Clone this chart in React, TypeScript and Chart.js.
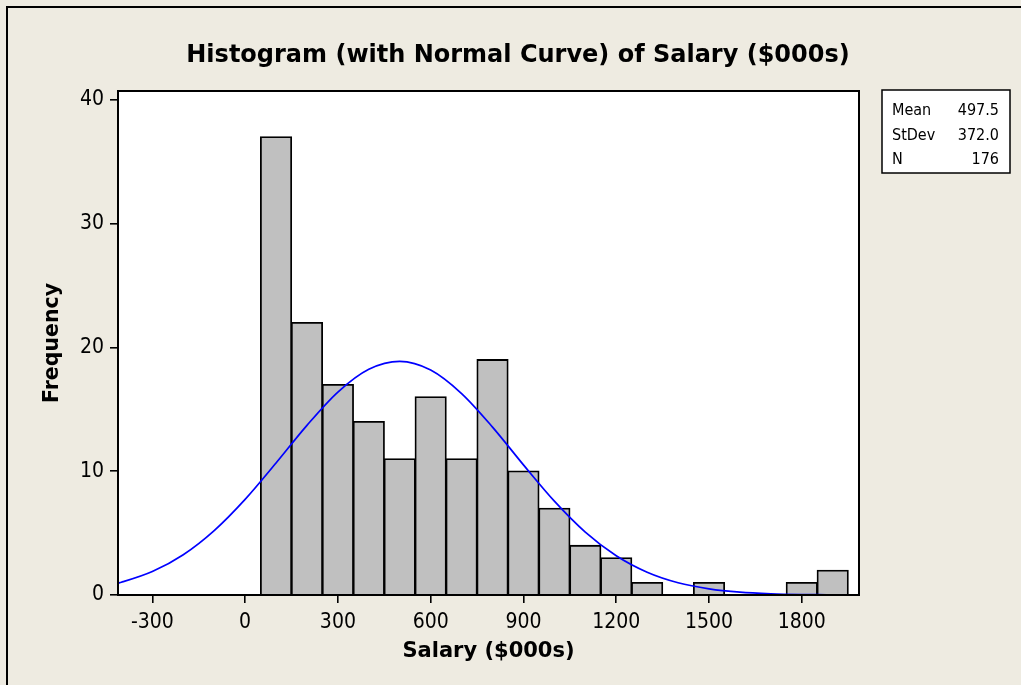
import React, { useEffect, useRef } from "react";
import { Chart, registerables } from "chart.js";

Chart.register(...registerables);

// Histogram bins (bin centres, width 100) and frequencies
const BIN_CENTERS = [100, 200, 300, 400, 500, 600, 700, 800, 900, 1000, 1100, 1200, 1300, 1400, 1500, 1600, 1700, 1800, 1900];
const FREQUENCIES = [37, 22, 17, 14, 11, 16, 11, 19, 10, 7, 4, 3, 1, 0, 1, 0, 0, 1, 2];

// Fitted normal curve
const CURVE_X = [-411, -400, -300, -200, -100, 0, 100, 200, 300, 400, 500, 600, 700, 800, 900, 1000, 1100, 1200, 1300, 1400, 1500, 1600, 1700, 1800, 1880];
const CURVE_Y = [0.96, 1.03, 1.89, 3.25, 5.2, 7.72, 10.66, 13.7, 16.39, 18.23, 18.87, 18.17, 16.27, 13.56, 10.51, 7.58, 5.08, 3.17, 1.84, 0.99, 0.5, 0.23, 0.1, 0.04, 0.02];

const X_TICKS = [-300, 0, 300, 600, 900, 1200, 1500, 1800];
const Y_TICKS = [0, 10, 20, 30, 40];
const X_MIN = -411;
const X_MAX = 1985;
const Y_MAX = 40.7;

const TITLE = "Histogram (with Normal Curve) of Salary ($000s)";
const X_TITLE = "Salary ($000s)";
const Y_TITLE = "Frequency";
const STAT_LABELS = ["Mean", "StDev", "N"];
const STAT_VALUES = ["497.5", "372.0", "176"];

const FONT = '"DejaVu Sans Condensed", "DejaVu Sans", sans-serif';
const BOLD_FONT = '"DejaVu Sans", sans-serif';
const BG = "#EEEBE1";

const decor = {
  id: "decor",
  beforeDraw(chart: any) {
    const { ctx, width, height, chartArea: a } = chart;
    ctx.save();
    ctx.fillStyle = BG;
    ctx.fillRect(0, 0, width, height);
    ctx.strokeStyle = "#000";
    ctx.lineWidth = 2;
    ctx.beginPath();
    ctx.moveTo(7, height);
    ctx.lineTo(7, 7);
    ctx.lineTo(width, 7);
    ctx.stroke();
    ctx.fillStyle = "#fff";
    ctx.fillRect(a.left, a.top, a.right - a.left, a.bottom - a.top);
    // title
    ctx.fillStyle = "#000";
    ctx.font = `bold 24px ${BOLD_FONT}`;
    ctx.textAlign = "center";
    ctx.textBaseline = "alphabetic";
    ctx.fillText(TITLE, 518, 62);
    // stats box
    ctx.fillStyle = "#fff";
    ctx.fillRect(882, 90, 128, 83);
    ctx.lineWidth = 1.5;
    ctx.strokeRect(882, 90, 128, 83);
    ctx.fillStyle = "#000";
    ctx.font = `16px ${FONT}`;
    STAT_LABELS.forEach((s, i) => {
      ctx.textAlign = "left";
      ctx.fillText(s, 892, 115 + i * 24.5);
      ctx.textAlign = "right";
      ctx.fillText(STAT_VALUES[i], 999, 115 + i * 24.5);
    });
    ctx.restore();
  },
  afterDatasetsDraw(chart: any) {
    const { ctx, chartArea: a } = chart;
    ctx.save();
    ctx.strokeStyle = "#000";
    ctx.lineWidth = 2;
    ctx.strokeRect(a.left, a.top, a.right - a.left, a.bottom - a.top);
    ctx.restore();
  },
};

export default function App() {
  const ref = useRef<HTMLCanvasElement | null>(null);
  useEffect(() => {
    if (!ref.current) return;
    const chart = new Chart(ref.current, {
      type: "bar",
      data: {
        datasets: [
          {
            type: "bar",
            data: BIN_CENTERS.map((x, i) => ({ x, y: FREQUENCIES[i] === 0 ? null : FREQUENCIES[i] })) as any,
            backgroundColor: "#C0C0C0",
            borderColor: "#000",
            borderWidth: 1.8,
            inflateAmount: 0.6,
            barPercentage: 1,
            categoryPercentage: 1,
            order: 2,
          } as any,
          {
            type: "line",
            data: CURVE_X.map((x, i) => ({ x, y: CURVE_Y[i] })) as any,
            borderColor: "#0000FF",
            borderWidth: 1.7,
            pointRadius: 0,
            cubicInterpolationMode: "monotone",
            fill: false,
            order: 1,
          } as any,
        ],
      },
      options: {
        animation: false,
        responsive: false,
        maintainAspectRatio: false,
        layout: { padding: { left: 0, top: 91, right: 162, bottom: 0 } },
        plugins: { legend: { display: false }, title: { display: false }, tooltip: { enabled: false } },
        scales: {
          x: {
            type: "linear",
            min: X_MIN,
            max: X_MAX,
            offset: false,
            afterBuildTicks: (s: any) => { s.ticks = X_TICKS.map((v) => ({ value: v })); },
            afterFit: (s: any) => { s.height = 90; },
            grid: { offset: false, drawOnChartArea: false, drawTicks: true, tickLength: 8, color: "#000", lineWidth: 1.6 },
            border: { display: false },
            ticks: { color: "#000", font: { family: FONT, size: 21 }, padding: 7, maxRotation: 0, autoSkip: false, callback: (v: any) => String(v) },
            title: { display: true, text: X_TITLE, color: "#000", font: { family: BOLD_FONT, size: 21, weight: "bold" }, padding: { top: 0, bottom: 21 } },
          },
          y: {
            type: "linear",
            min: 0,
            max: Y_MAX,
            afterBuildTicks: (s: any) => { s.ticks = Y_TICKS.map((v) => ({ value: v })); },
            afterFit: (s: any) => { s.width = 118; },
            grid: { drawOnChartArea: false, drawTicks: true, tickLength: 8, color: "#000", lineWidth: 1.6 },
            border: { display: false },
            ticks: { color: "#000", font: { family: FONT, size: 21 }, padding: 6, callback: (v: any) => String(v) },
            title: { display: true, text: Y_TITLE, color: "#000", font: { family: BOLD_FONT, size: 20.5, weight: "bold" }, padding: { top: 40, bottom: 0 } },
          },
        },
      },
      plugins: [decor],
    } as any);
    return () => chart.destroy();
  }, []);
  return (
    <div style={{ position: "fixed", left: 0, top: 0, width: 1021, height: 685 }}>
      <canvas ref={ref} width={1021} height={685} style={{ display: "block", width: 1021, height: 685 }} />
    </div>
  );
}
